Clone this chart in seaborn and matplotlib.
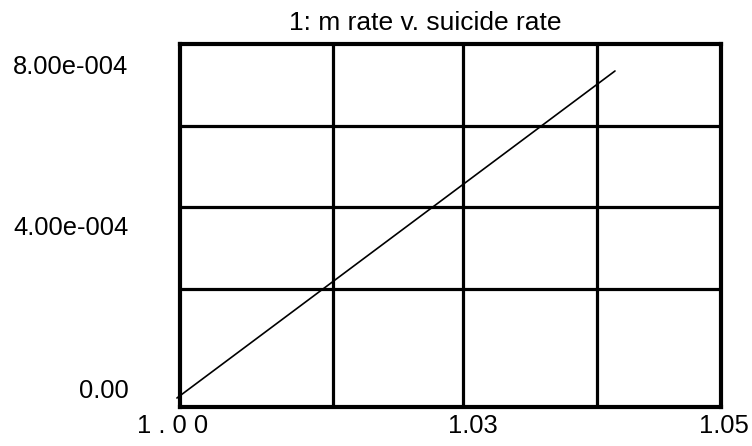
import matplotlib
matplotlib.use("Agg")
import matplotlib.pyplot as plt
import matplotlib.transforms as mtransforms
import numpy as np
import pandas as pd
import seaborn as sns

# ---- data ----
m_rate = [0.99972, 1.03972]
suicide_rate = [0.0, 8.0e-4]
x_tick_labels = ["1 . 0 0", "1.03", "1.05"]
y_tick_values = [0.0, 4.0e-4, 8.0e-4]
y_tick_labels = ["0.00", "4.00e-004", "8.00e-004"]
title = "1: m rate v. suicide rate"

sns.set_theme(style="white")
plt.rcParams['font.family'] = ['Liberation Sans', 'DejaVu Sans']

DPI = 100
fig = plt.figure(figsize=(7.52, 4.46), dpi=DPI)
ax = fig.add_axes([180/752, 1-407/446, (721-180)/752, (407-44)/446])

df = pd.DataFrame({"m rate": m_rate, "suicide rate": suicide_rate})
sns.lineplot(data=df, x="m rate", y="suicide rate", ax=ax, color="black",
             linewidth=1.2, zorder=5, clip_on=False)

xmin, xmax = 1.0, 1.0494
ymin, ymax = -2.2e-5, 8.66e-4
ax.set_xlim(xmin, xmax)
ax.set_ylim(ymin, ymax)

# grid lines (at the reference's fractional positions)
gx = [0.2828, 0.523, 0.771]
gy = [0.325, 0.551, 0.774]
ax.set_xticks([xmin + f*(xmax-xmin) for f in gx], minor=True)
ax.set_yticks([ymin + f*(ymax-ymin) for f in gy], minor=True)
ax.grid(which="minor", color="black", linewidth=2.3)
ax.grid(which="major", visible=False)
ax.tick_params(which="both", length=0)

# x tick labels
xf = [0.0, 0.5416, 1.0]
ax.set_xticks([xmin + f*(xmax-xmin) for f in xf])
ax.set_xticklabels(x_tick_labels)
ax.set_yticks(y_tick_values)
ax.set_yticklabels(y_tick_labels)
fs = 18.4
ax.tick_params(axis="x", labelsize=fs, pad=5, colors="black")
ax.tick_params(axis="y", labelsize=fs, pad=37, colors="black")

xoffs = [-7, 0, 3]
for lab, dx in zip(ax.get_xticklabels(), xoffs):
    lab.set_transform(lab.get_transform() + mtransforms.ScaledTranslation(dx/DPI, 0, fig.dpi_scale_trans))
yoffs = [10, 9, 6]
for lab, dy in zip(ax.get_yticklabels(), yoffs):
    lab.set_transform(lab.get_transform() + mtransforms.ScaledTranslation(0, dy/DPI, fig.dpi_scale_trans))

ax.set_xlabel("")
ax.set_ylabel("")
for s in ax.spines.values():
    s.set_color("black")
    s.set_linewidth(3.0)
    s.set_visible(True)
    s.set_zorder(6)

ax.set_title(title, fontsize=19, x=(425.5-180)/541, pad=10, color="black")

fig.savefig("out.png", dpi=DPI, facecolor="white")
